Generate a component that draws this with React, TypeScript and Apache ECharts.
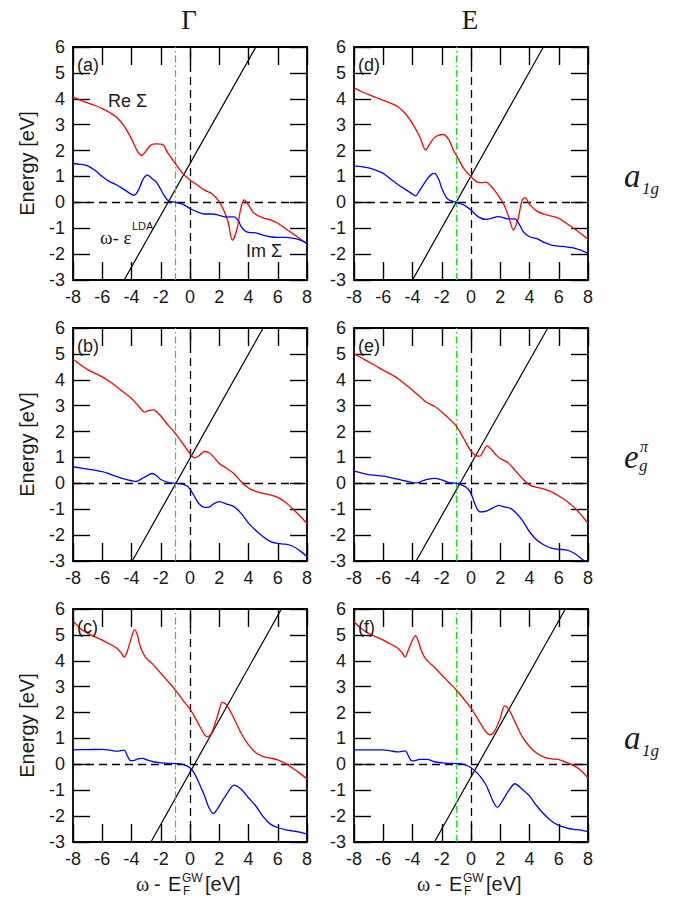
import React, { useEffect, useRef } from "react";
import * as echarts from "echarts";

// ---------------- data ----------------
const X_MIN = -8, X_MAX = 8, X_STEP = 2;
const Y_MIN = -3, Y_MAX = 6, Y_STEP = 1;

const panelLabels = ["(a)", "(b)", "(c)", "(d)", "(e)", "(f)"];
const columnTitles = ["Γ", "E"];
const yAxisTitle = "Energy [eV]";
const fermiX = [0, 0, 0, 0, 0, 0];
const zeroY = [0, 0, 0, 0, 0, 0];
const qpX = [-1, -1, -1, -1, -1, -1];

// panel (a)  Γ, a1g
const reA = [[-8,4.07],[-7.5,3.95],[-7,3.84],[-6.5,3.74],[-6,3.62],[-5.5,3.47],[-5,3.28],[-4.5,2.94],[-4,2.45],[-3.6,1.98],[-3.3,1.81],[-3.0,2.0],[-2.7,2.2],[-2.4,2.26],[-2.0,2.25],[-1.8,2.2],[-1.5,1.89],[-1.0,1.5],[-0.5,1.12],[0,0.86],[0.5,0.67],[1,0.47],[1.5,0.33],[2.0,0.02],[2.3,-0.3],[2.6,-0.75],[2.9,-1.46],[3.2,-1.07],[3.45,-0.3],[3.7,0.09],[4.0,-0.1],[4.3,-0.38],[4.6,-0.5],[5,-0.6],[5.5,-0.68],[6,-0.81],[6.5,-1.0],[7,-1.2],[7.5,-1.4],[8,-1.61]];
const imA = [[-8,1.5],[-7.5,1.47],[-7,1.41],[-6.5,1.24],[-6,1.0],[-5.5,0.8],[-5,0.67],[-4.5,0.49],[-4,0.31],[-3.8,0.28],[-3.5,0.5],[-3.2,0.9],[-2.9,1.05],[-2.6,0.92],[-2.3,0.78],[-2.0,0.5],[-1.8,0.3],[-1.5,0.07],[-1,0.0],[-0.5,-0.07],[0,-0.24],[0.5,-0.37],[1,-0.45],[1.5,-0.45],[2,-0.5],[2.5,-0.57],[3,-0.56],[3.3,-0.7],[3.5,-0.94],[3.8,-1.12],[4,-1.16],[4.5,-1.18],[5,-1.27],[5.5,-1.33],[6,-1.35],[6.5,-1.35],[7,-1.38],[7.5,-1.45],[8,-1.58]];
const ldaA = [[-4.5,-3],[4.5,6]];

// panel (b)  Γ, eg pi
const reB = [[-8,4.79],[-7.5,4.58],[-7,4.39],[-6.5,4.25],[-6,4.11],[-5.5,3.93],[-5,3.72],[-4.5,3.5],[-4,3.28],[-3.5,2.97],[-3.1,2.75],[-2.8,2.82],[-2.5,2.84],[-2.2,2.72],[-2,2.6],[-1.5,2.25],[-1,1.93],[-0.5,1.54],[0,1.15],[0.3,0.98],[0.6,1.06],[1,1.23],[1.3,1.18],[1.6,1.03],[2,0.77],[2.5,0.58],[3,0.38],[3.5,0.06],[4,-0.18],[4.5,-0.31],[5,-0.39],[5.5,-0.45],[6,-0.54],[6.5,-0.72],[7,-0.97],[7.5,-1.25],[8,-1.55]];
const imB = [[-8,0.64],[-7,0.55],[-6,0.45],[-5.5,0.36],[-5,0.26],[-4.5,0.17],[-4,0.1],[-3.7,0.07],[-3.3,0.18],[-3,0.27],[-2.6,0.38],[-2.3,0.3],[-2,0.15],[-1.5,0.04],[-1,0.0],[-0.5,-0.03],[-0.2,-0.1],[0,-0.22],[0.3,-0.5],[0.6,-0.78],[1,-0.93],[1.3,-0.92],[1.6,-0.8],[2,-0.71],[2.5,-0.8],[3,-0.9],[3.5,-1.16],[4,-1.54],[4.5,-1.82],[5,-2.06],[5.5,-2.25],[6,-2.32],[6.5,-2.35],[7,-2.42],[7.5,-2.6],[8,-2.83]];
const ldaB = [[-3.95,-3],[5,6]];

// panel (c)  Γ, a1g
const reC = [[-8,5.54],[-7.5,5.25],[-7,5.06],[-6.5,4.92],[-6,4.8],[-5.5,4.65],[-5,4.48],[-4.7,4.3],[-4.5,4.14],[-4.3,4.35],[-4.0,4.9],[-3.8,5.19],[-3.6,5.0],[-3.4,4.55],[-3.1,4.18],[-2.8,4.0],[-2.5,3.84],[-2,3.52],[-1.5,3.2],[-1,2.87],[-0.5,2.49],[0,2.13],[0.5,1.65],[1,1.14],[1.2,1.07],[1.5,1.25],[1.8,1.72],[2.0,2.1],[2.2,2.39],[2.5,2.3],[3,1.78],[3.5,1.2],[4,0.75],[4.5,0.45],[5,0.3],[5.5,0.24],[6,0.17],[6.5,0.04],[7,-0.14],[7.5,-0.34],[8,-0.57]];
const imC = [[-8,0.56],[-7,0.57],[-6,0.58],[-5.5,0.55],[-5,0.51],[-4.5,0.55],[-4.3,0.35],[-4.1,0.15],[-3.9,0.14],[-3.5,0.22],[-3.2,0.23],[-3,0.18],[-2.5,0.1],[-2,0.06],[-1.5,0.04],[-1,0.03],[-0.5,0.0],[0,-0.13],[0.3,-0.35],[0.6,-0.7],[1,-1.22],[1.3,-1.68],[1.6,-1.9],[1.9,-1.7],[2.2,-1.42],[2.5,-1.16],[2.8,-0.9],[3,-0.8],[3.5,-0.96],[4,-1.29],[4.5,-1.61],[5,-2.02],[5.5,-2.31],[6,-2.44],[6.5,-2.52],[7,-2.57],[7.5,-2.62],[8,-2.7]];
const ldaC = [[-2.67,-3],[6.25,6]];

// panel (d)  E, a1g
const reD = [[-8,4.42],[-7.5,4.28],[-7,4.16],[-6.5,4.05],[-6,3.94],[-5.5,3.83],[-5,3.69],[-4.5,3.43],[-4,3.04],[-3.5,2.53],[-3.1,2.02],[-2.8,2.27],[-2.5,2.5],[-2.2,2.6],[-1.9,2.62],[-1.5,2.4],[-1.2,2.0],[-1,1.82],[-0.5,1.31],[0,0.99],[0.5,0.77],[0.8,0.76],[1,0.78],[1.5,0.54],[2,0.15],[2.3,-0.15],[2.6,-0.6],[2.9,-1.07],[3.2,-0.68],[3.5,0.09],[3.7,0.18],[4,-0.08],[4.5,-0.34],[5,-0.46],[5.5,-0.53],[6,-0.62],[6.5,-0.8],[7,-1.0],[7.5,-1.2],[8,-1.43]];
const imD = [[-8,1.41],[-7.5,1.38],[-7,1.33],[-6.5,1.24],[-6,1.12],[-5.5,0.9],[-5,0.69],[-4.5,0.5],[-4,0.32],[-3.8,0.25],[-3.5,0.47],[-3,0.9],[-2.7,1.08],[-2.5,1.12],[-2.2,0.88],[-2,0.54],[-1.7,0.2],[-1.5,0.09],[-1,-0.01],[-0.5,-0.1],[0,-0.3],[0.5,-0.56],[1,-0.66],[1.5,-0.6],[1.8,-0.55],[2,-0.56],[2.5,-0.64],[3,-0.64],[3.3,-0.85],[3.6,-1.15],[4,-1.33],[4.5,-1.4],[5,-1.55],[5.5,-1.65],[6,-1.69],[6.5,-1.72],[7,-1.76],[7.5,-1.85],[8,-1.97]];
const ldaD = [[-4,-3],[4.95,6]];

// panel (e)  E, eg pi
const reE = [[-8,5.01],[-7.5,4.85],[-7,4.69],[-6.5,4.53],[-6,4.37],[-5.5,4.22],[-5,4.05],[-4.5,3.83],[-4,3.6],[-3.5,3.35],[-3,3.11],[-2.5,2.98],[-2,2.76],[-1.5,2.5],[-1,2.21],[-0.5,1.73],[0,1.24],[0.3,1.07],[0.6,1.05],[0.85,1.25],[1.1,1.45],[1.4,1.3],[1.7,1.1],[2,0.96],[2.5,0.81],[3,0.51],[3.5,0.19],[4,-0.06],[4.5,-0.16],[5,-0.22],[5.5,-0.33],[6,-0.49],[6.5,-0.67],[7,-0.9],[7.5,-1.2],[8,-1.55]];
const imE = [[-8,0.47],[-7.5,0.4],[-7,0.34],[-6,0.28],[-5.5,0.22],[-5,0.16],[-4.5,0.09],[-4,0.03],[-3.7,0.02],[-3.3,0.1],[-3,0.15],[-2.5,0.19],[-2,0.13],[-1.5,0.03],[-1,0.0],[-0.5,-0.1],[-0.2,-0.22],[0,-0.39],[0.3,-0.84],[0.6,-1.1],[1,-1.08],[1.5,-0.95],[1.9,-0.85],[2.2,-0.9],[2.7,-0.97],[3,-1.1],[3.5,-1.42],[4,-1.87],[4.5,-2.19],[5,-2.38],[5.5,-2.5],[6,-2.55],[6.5,-2.57],[7,-2.68],[7.5,-2.88],[7.85,-3.05]];
const ldaE = [[-3.75,-3],[5.25,6]];

// panel (f)  E, a1g
const reF = [[-8,5.51],[-7.5,5.25],[-7,5.06],[-6.5,4.92],[-6,4.8],[-5.5,4.65],[-5,4.48],[-4.7,4.3],[-4.5,4.14],[-4.3,4.4],[-4.0,4.8],[-3.8,4.97],[-3.6,4.75],[-3.4,4.4],[-3.1,4.07],[-2.8,3.9],[-2.5,3.75],[-2,3.45],[-1.5,3.16],[-1,2.87],[-0.5,2.53],[0,2.17],[0.5,1.72],[1,1.27],[1.3,1.14],[1.6,1.27],[2.0,1.78],[2.3,2.26],[2.6,2.1],[3,1.65],[3.5,1.07],[4,0.69],[4.5,0.43],[5,0.28],[5.5,0.21],[6,0.18],[6.5,0.08],[7,-0.04],[7.5,-0.23],[8,-0.53]];
const imF = [[-8,0.56],[-7,0.56],[-6,0.56],[-5.5,0.52],[-5,0.48],[-4.5,0.52],[-4.3,0.35],[-4.1,0.15],[-3.9,0.13],[-3.5,0.19],[-3,0.19],[-2.5,0.1],[-2,0.06],[-1.5,0.04],[-1,0.03],[-0.5,0.0],[0,-0.13],[0.5,-0.38],[1,-0.77],[1.3,-1.15],[1.5,-1.42],[1.8,-1.66],[2.2,-1.36],[2.6,-1.0],[3,-0.75],[3.5,-0.96],[4,-1.22],[4.5,-1.61],[5,-1.93],[5.5,-2.19],[6,-2.36],[6.5,-2.45],[7,-2.51],[7.5,-2.54],[8,-2.6]];
const ldaF = [[-2.5,-3],[6.45,6]];

const reSeries = [reA, reB, reC, reD, reE, reF];
const imSeries = [imA, imB, imC, imD, imE, imF];
const ldaSeries = [ldaA, ldaB, ldaC, ldaD, ldaE, ldaF];

// ---------------- layout ----------------
const W = 679, H = 901;
const GRID_LEFT = [73, 354];
const GRID_TOP = [47, 328, 609];
const GRID_W = 234, GRID_H = 233;
const SANS = '"Liberation Sans", Arial, Helvetica, sans-serif';
const SERIF = '"Liberation Serif", "Times New Roman", serif';
const TXT = "#1a1a1a";

function text(x: number, y: number, s: string, size: number, opts: any = {}) {
  const align = opts.align || "left";
  const va = opts.va || "middle";
  return {
    type: "text",
    x,
    y,
    silent: true,
    z: 100,
    style: {
      text: s,
      fill: opts.fill || TXT,
      fontSize: size,
      fontFamily: opts.family || SANS,
      fontStyle: opts.italic ? "italic" : "normal",
      align,
      verticalAlign: va,
      textAlign: align,
      textVerticalAlign: va,
    },
  };
}

function buildOption() {
  const grids: any[] = [];
  const xAxes: any[] = [];
  const yAxes: any[] = [];
  const series: any[] = [];
  const graphics: any[] = [];

  const axisLine = { show: true, onZero: false, lineStyle: { color: "#000", width: 1.8 } };
  const tick = (len: number) => ({ show: true, inside: true, length: len, lineStyle: { color: "#000", width: 1.4 } });
  const lbl = { show: true, fontSize: 18, fontFamily: SANS, color: TXT, margin: 8 };

  for (let i = 0; i < 6; i++) {
    const col = Math.floor(i / 3);
    const row = i % 3;
    grids.push({ left: GRID_LEFT[col], top: GRID_TOP[row], width: GRID_W, height: GRID_H, show: false });
    const xBase = { type: "value", gridIndex: i, min: X_MIN, max: X_MAX, interval: X_STEP, splitLine: { show: false }, axisLine, axisTick: tick(18) };
    xAxes.push({ ...xBase, position: "bottom", axisLabel: lbl });
    xAxes.push({ ...xBase, position: "top", axisLabel: { show: false } });
    const yBase = { type: "value", gridIndex: i, min: Y_MIN, max: Y_MAX, interval: Y_STEP, splitLine: { show: false }, axisLine, axisTick: tick(17) };
    yAxes.push({
      ...yBase,
      position: "left",
      axisLabel: lbl,
      name: col === 0 ? yAxisTitle : "",
      nameLocation: "middle",
      nameGap: 36,
      nameTextStyle: { fontSize: 20, fontFamily: SANS, color: TXT },
    });
    yAxes.push({ ...yBase, position: "right", axisLabel: { show: false } });

    const ax = { xAxisIndex: 2 * i, yAxisIndex: 2 * i };
    series.push({
      type: "line", ...ax, data: reSeries[i], smooth: 0.3, showSymbol: false, symbol: "none",
      lineStyle: { color: "#ff0000", width: 1.3 }, z: 5,
      markLine: {
        silent: true, symbol: ["none", "none"], label: { show: false }, animation: false,
        data: [
          { yAxis: zeroY[i], lineStyle: { color: "#000", type: [8, 5], width: 1.3 } },
          { xAxis: fermiX[i], lineStyle: { color: "#000", type: [8, 5], width: 1.3 } },
          { xAxis: qpX[i], lineStyle: { color: "#00ee00", type: [7, 3, 1.5, 3], width: 1.2 } },
        ],
      },
    });
    series.push({
      type: "line", ...ax, data: imSeries[i], smooth: 0.3, showSymbol: false, symbol: "none",
      lineStyle: { color: "#0000ff", width: 1.3 }, z: 5,
    });
    series.push({
      type: "line", ...ax, data: ldaSeries[i], showSymbol: false, symbol: "none",
      lineStyle: { color: "#000", width: 1.2 }, z: 4,
    });

    graphics.push(text(GRID_LEFT[col] + 4, GRID_TOP[row] + 18, panelLabels[i], 18));
  }

  // column titles
  columnTitles.forEach((t, c) => {
    graphics.push(text(GRID_LEFT[c] + GRID_W / 2 - 1, 19.5, t, 27, { align: "center", family: SERIF }));
  });

  // right side orbital labels
  for (let r = 0; r < 3; r++) {
    const base = GRID_TOP[r] + GRID_H / 2 + 23.5; // baseline of main letter
    if (r === 1) {
      graphics.push(text(624, base - 11, "e", 33, { family: SERIF, italic: true }));
      graphics.push(text(639, base - 3, "g", 17, { family: SERIF, italic: true }));
      graphics.push(text(640, base - 22, "π", 16, { family: SERIF, italic: true }));
    } else {
      graphics.push(text(624, base - 11, "a", 33, { family: SERIF, italic: true }));
      graphics.push(text(642, base + 1.5, "1g", 17, { family: SERIF, italic: true }));
    }
  }

  // x-axis titles under bottom row
  for (let c = 0; c < 2; c++) {
    const dx = GRID_LEFT[c] - GRID_LEFT[0];
    graphics.push(text(136 + dx, 884, "ω", 20, { family: SERIF }));
    graphics.push(text(154 + dx, 884, "-", 20));
    graphics.push(text(168 + dx, 884, "E", 20));
    graphics.push(text(182 + dx, 878, "GW", 12));
    graphics.push(text(183 + dx, 891, "F", 12));
    graphics.push(text(205 + dx, 884, "[eV]", 20));
  }

  // annotations in panel (a)
  graphics.push(text(108, 101, "Re Σ", 18));
  graphics.push(text(100, 237, "ω- ε", 19, { family: SERIF }));
  graphics.push(text(132, 226, "LDA", 11));
  graphics.push(text(246, 251, "Im Σ", 18));

  return {
    animation: false,
    backgroundColor: "#fff",
    grid: grids,
    xAxis: xAxes,
    yAxis: yAxes,
    series,
    graphic: { elements: graphics },
  };
}

export default function App() {
  const ref = useRef<HTMLDivElement>(null);
  useEffect(() => {
    document.body.style.margin = "0";
    const chart = echarts.init(ref.current as HTMLDivElement, null, { renderer: "svg" });
    chart.setOption(buildOption() as any);
    return () => chart.dispose();
  }, []);
  return <div ref={ref} style={{ width: W, height: H }} />;
}
